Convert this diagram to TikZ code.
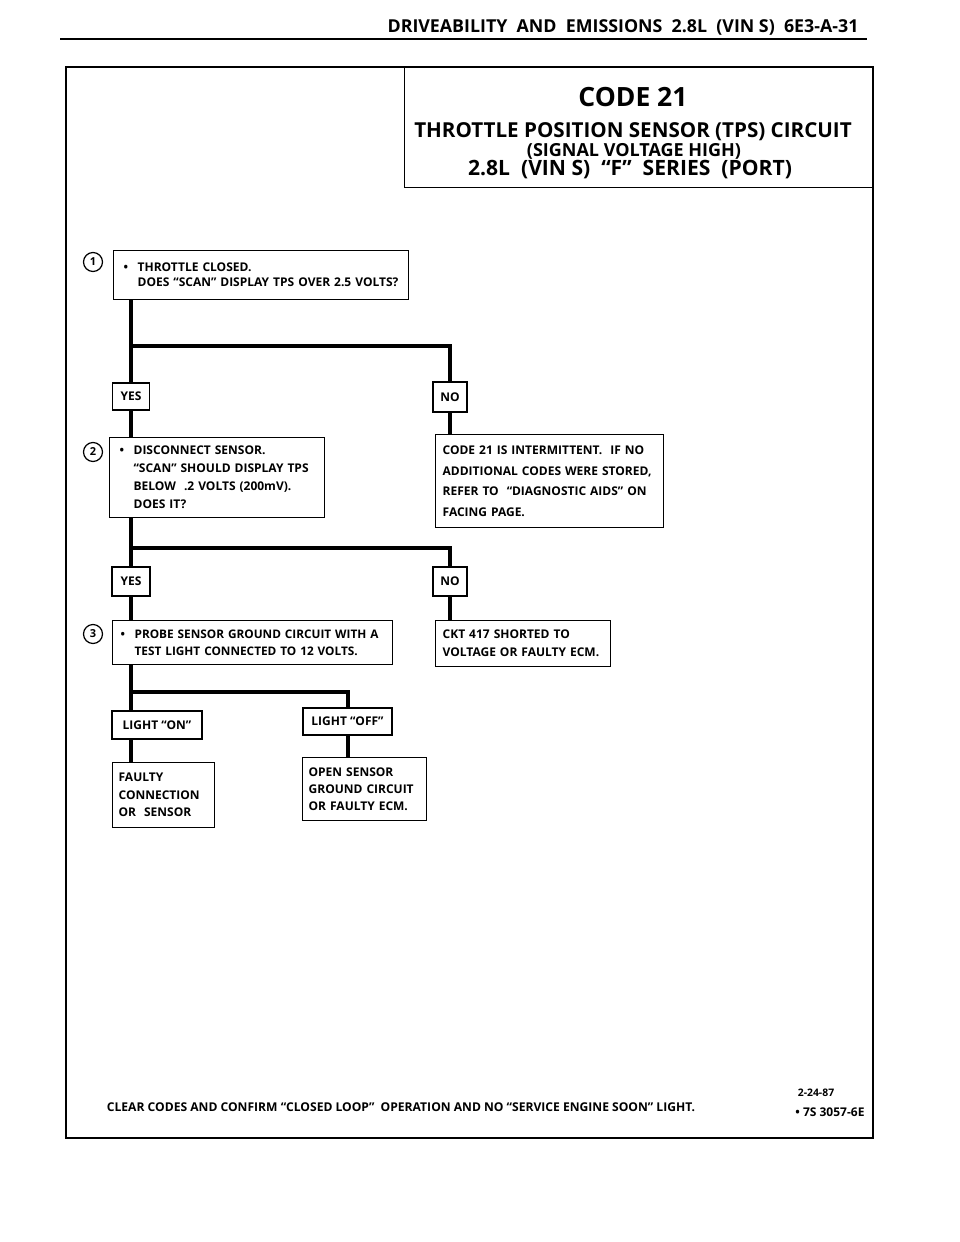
\documentclass[tikz,border=0pt]{standalone}
\usepackage{fontspec}
\setmainfont{Open Sans}
\usetikzlibrary{calc}
\newcommand{\bul}{\makebox[14pt][l]{\textbullet}}
\newcommand{\ind}{\hspace*{14pt}}
\begin{document}
\begin{tikzpicture}[x=1pt,y=-1pt,
  txt/.style={font=\bfseries\fontsize{12}{15}\selectfont},
  box/.style={draw,line width=1.3pt,anchor=north west,inner ysep=0pt,align=left,txt},
  lab/.style={draw,line width=1.3pt,inner sep=0pt,txt},
  flow/.style={line width=4pt,line join=miter},
  num/.style={draw,circle,line width=1.2pt,minimum size=19pt,inner sep=0pt,font=\bfseries\fontsize{11}{12}\selectfont}]
\useasboundingbox (0,0) rectangle (960,1242);
% header
\node[font=\bfseries\fontsize{17.8}{20}\selectfont] (hdr) at (623,27) {DRIVEABILITY\ \ AND\ \ EMISSIONS\ \ 2.8L\ \ (VIN S)\ \ 6E3-A-31};
\draw[line width=1.5pt] (60,39) -- (867,39);
% frame and title
\draw[line width=1.8pt] (66,67) rectangle (873,1138);
\node[draw,line width=1.3pt,anchor=north west,minimum width=469pt,minimum height=120pt,inner sep=0pt] (title) at (404,67) {};
\node[font=\bfseries\fontsize{26.5}{30}\selectfont] (t1) at (633,97) {CODE 21};
\node[font=\bfseries\fontsize{20.6}{24}\selectfont] (t2) at (633,132) {THROTTLE POSITION SENSOR (TPS) CIRCUIT};
\node[font=\bfseries\fontsize{18}{20}\selectfont] (t3) at (634,151) {(SIGNAL VOLTAGE HIGH)};
\node[font=\bfseries\fontsize{21.1}{24}\selectfont] (t4) at (630,170) {2.8L\ \ (VIN S)\ \ “F”\ \ SERIES\ \ (PORT)};
% step 1
\node[num] (n1) at (93,262) {1};
\node[box,inner xsep=10pt,text width=275pt,minimum height=49pt] (b1) at (113,250)
 {\bul THROTTLE CLOSED.\\\ind DOES “SCAN” DISPLAY TPS OVER 2.5 VOLTS?};
\node[lab,minimum width=37pt,minimum height=27pt] (yes1) at (131,396.5) {YES};
\node[lab,minimum width=34pt,minimum height=30pt] (no1) at (450,397) {NO};
% step 2
\node[num] (n2) at (93,452) {2};
\node[box,inner xsep=10pt,text width=195pt,minimum height=80pt,font=\bfseries\fontsize{12}{18}\selectfont] (b2) at (109,437)
 {\bul DISCONNECT SENSOR.\\\ind “SCAN” SHOULD DISPLAY TPS\\\ind BELOW\ \ .2 VOLTS (200mV).\\\ind DOES IT?};
\node[box,inner xsep=7pt,text width=214pt,minimum height=93pt,font=\bfseries\fontsize{12}{20.5}\selectfont] (r1) at (435,434)
 {CODE 21 IS INTERMITTENT.\ \ IF NO\\ADDITIONAL CODES WERE STORED,\\REFER TO\ \ “DIAGNOSTIC AIDS” ON\\FACING PAGE.};
\node[lab,minimum width=38pt,minimum height=29pt] (yes2) at (131,581.5) {YES};
\node[lab,minimum width=34pt,minimum height=29pt] (no2) at (450,581.5) {NO};
% step 3
\node[num] (n3) at (93,634) {3};
\node[box,inner xsep=8pt,text width=264pt,minimum height=44pt,font=\bfseries\fontsize{11.8}{17}\selectfont] (b3) at (112,620)
 {\bul PROBE SENSOR GROUND CIRCUIT WITH A\\\ind TEST LIGHT CONNECTED TO 12 VOLTS.};
\node[box,inner xsep=7pt,text width=161pt,minimum height=46pt,font=\bfseries\fontsize{12}{18}\selectfont] (r2) at (435,620)
 {CKT 417 SHORTED TO\\VOLTAGE OR FAULTY ECM.};
\node[lab,minimum width=90pt,minimum height=28pt] (on) at (157,725) {LIGHT “ON”};
\node[lab,minimum width=89pt,minimum height=27pt] (off) at (347.5,721.5) {LIGHT “OFF”};
\node[box,inner xsep=6pt,text width=90pt,minimum height=65pt,font=\bfseries\fontsize{12}{17.5}\selectfont] (r3) at (112,762)
 {FAULTY\\CONNECTION\\OR\ \ SENSOR};
\node[box,inner xsep=6pt,text width=112pt,minimum height=63pt,font=\bfseries\fontsize{12}{17}\selectfont] (r4) at (302,757)
 {OPEN SENSOR\\GROUND CIRCUIT\\OR FAULTY ECM.};
% connectors
\coordinate (j1) at (131,346);
\coordinate (j2) at (131,548);
\coordinate (j3) at (131,692);
\draw[flow] (b1.south -| yes1.north) -- (yes1.north);
\draw[flow] (j1) -| (no1.north);
\draw[flow] (yes1.south) -- (yes1.south |- b2.north);
\draw[flow] (no1.south) -- (no1.south |- r1.north);
\draw[flow] (b2.south -| yes2.north) -- (yes2.north);
\draw[flow] (j2) -| (no2.north);
\draw[flow] (yes2.south) -- (yes2.south |- b3.north);
\draw[flow] (no2.south) -- (no2.south |- r2.north);
\draw[flow] (b3.south -| j3) -- (j3 |- on.north);
\draw[flow] (j3) -| (off.north);
\draw[flow] (on.south -| j3) -- (j3 |- r3.north);
\draw[flow] (off.south) -- (off.south |- r4.north);
% footer
\node[font=\bfseries\fontsize{12.1}{14}\selectfont] (foot) at (401,1107) {CLEAR CODES AND CONFIRM “CLOSED LOOP”\ \ OPERATION AND NO “SERVICE ENGINE SOON” LIGHT.};
\node[font=\bfseries\fontsize{10.4}{12}\selectfont] (date) at (816,1093) {2-24-87};
\node[anchor=east,font=\bfseries\fontsize{12}{14}\selectfont] (fig) at (868,1112) {\textbullet\ 7S 3057-6E};
\end{tikzpicture}
\end{document}
